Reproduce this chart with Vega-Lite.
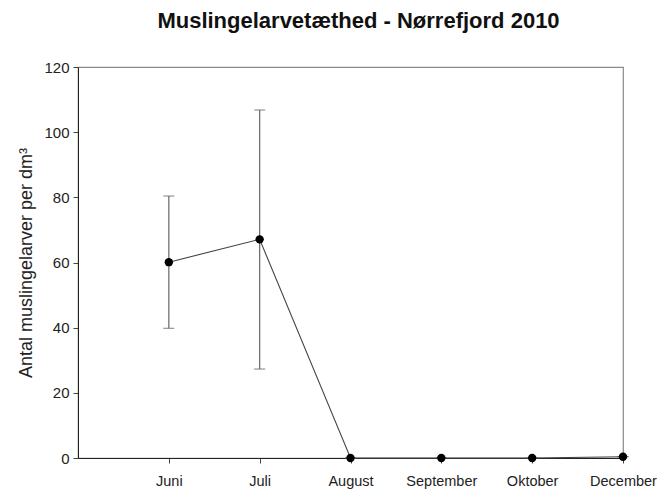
{
  "$schema": "https://vega.github.io/schema/vega-lite/v6.json",
  "width": 545,
  "height": 391,
  "autosize": {"type": "none"},
  "padding": {"left": 78, "top": 67, "right": 36, "bottom": 34},
  "background": "white",
  "config": {
    "view": {"stroke": "#8a8a8a", "strokeWidth": 1.2},
    "font": "Liberation Sans"
  },
  "title": {
    "text": "Muslingelarvetæthed - Nørrefjord 2010",
    "font": "Liberation Sans",
    "fontSize": 22,
    "fontWeight": "bold",
    "color": "#111",
    "anchor": "middle",
    "dx": 8,
    "offset": 27
  },
  "data": {
    "values": [
      {"month": "Juni", "idx": 1, "mean": 60.1, "lower": 39.8, "upper": 80.4},
      {"month": "Juli", "idx": 2, "mean": 67.1, "lower": 27.3, "upper": 106.8},
      {"month": "August", "idx": 3, "mean": 0, "lower": 0, "upper": 0},
      {"month": "September", "idx": 4, "mean": 0, "lower": 0, "upper": 0},
      {"month": "Oktober", "idx": 5, "mean": 0, "lower": 0, "upper": 0},
      {"month": "December", "idx": 6, "mean": 0.4, "lower": 0.4, "upper": 0.4}
    ]
  },
  "encoding": {
    "x": {
      "field": "idx",
      "type": "quantitative",
      "scale": {"domain": [0, 6], "nice": false, "zero": false},
      "axis": {
        "title": null,
        "values": [1, 2, 3, 4, 5, 6],
        "labelExpr": "['', 'Juni', 'Juli', 'August', 'September', 'Oktober', 'December'][datum.value]",
        "labelFlush": false,
        "labelOverlap": false,
        "labelBound": false,
        "grid": false,
        "domainColor": "#222",
        "tickColor": "#444",
        "tickSize": 5,
        "labelPadding": 11,
        "labelFont": "Liberation Sans",
        "labelFontSize": 14.5,
        "labelColor": "#222"
      }
    }
  },
  "layer": [
    {
      "mark": {"type": "rule", "color": "#666", "strokeWidth": 1.2},
      "encoding": {
        "y": {"field": "lower", "type": "quantitative"},
        "y2": {"field": "upper"}
      }
    },
    {
      "mark": {"type": "tick", "color": "#666", "thickness": 1.2, "size": 11, "orient": "horizontal"},
      "encoding": {"y": {"field": "upper", "type": "quantitative"}}
    },
    {
      "mark": {"type": "tick", "color": "#666", "thickness": 1.2, "size": 11, "orient": "horizontal"},
      "encoding": {"y": {"field": "lower", "type": "quantitative"}}
    },
    {
      "mark": {"type": "line", "color": "#444", "strokeWidth": 1.1},
      "encoding": {
        "y": {"field": "mean", "type": "quantitative"}
      }
    },
    {
      "mark": {"type": "point", "filled": true, "color": "#000", "size": 70, "opacity": 1},
      "encoding": {
        "y": {
          "field": "mean",
          "type": "quantitative",
          "scale": {"domain": [0, 120], "nice": false},
          "axis": {
            "title": "Antal muslingelarver per dm³",
            "titleFont": "Liberation Sans",
            "titleFontSize": 18,
            "titleFontWeight": "normal",
            "titleColor": "#222",
            "titlePadding": 8,
            "values": [0, 20, 40, 60, 80, 100, 120],
            "grid": false,
            "domainColor": "#222",
            "tickColor": "#444",
            "tickSize": 5,
            "labelPadding": 4,
            "labelFont": "Liberation Sans",
            "labelFontSize": 15,
            "labelColor": "#222"
          }
        }
      }
    }
  ]
}
